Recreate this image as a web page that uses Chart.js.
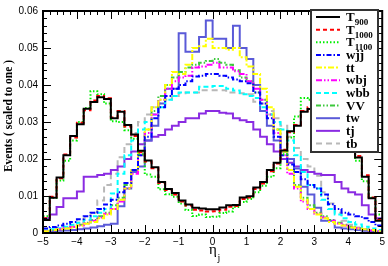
<!DOCTYPE html>
<html>
<head>
<meta charset="utf-8">
<script src="https://cdn.jsdelivr.net/npm/chart.js@4.4.0/dist/chart.umd.min.js"></script>
<style>
  html, body { margin: 0; padding: 0; background: #fff; }
  #wrap { width: 388px; height: 266px; }
</style>
</head>
<body>
<div id="wrap"><canvas id="etaChart" width="388" height="266"></canvas></div>
<script>
// 50 bins of 0.2 in eta_j, from -5 to 5
const etaMin = -5;
const binWidth = 0.2;
const nBins = 50;
const binEdges = [];
for (let i = 0; i <= nBins; i++) binEdges.push(+(etaMin + i * binWidth).toFixed(2));

const xTicks = [-5, -4, -3, -2, -1, 0, 1, 2, 3, 4, 5];
const yTicks = [0, 0.01, 0.02, 0.03, 0.04, 0.05, 0.06];

// signal samples
const t900 = [0.0035, 0.0095, 0.015, 0.021, 0.0262, 0.0294, 0.0336, 0.0354, 0.0367, 0.0362,
  0.031, 0.0328, 0.0292, 0.0266, 0.0222, 0.0196, 0.0178, 0.0138, 0.0119, 0.0108,
  0.0088, 0.0077, 0.0068, 0.0066, 0.0064, 0.0064, 0.0069, 0.0075, 0.0076, 0.0096,
  0.0099, 0.0123, 0.0138, 0.017, 0.019, 0.0223, 0.0275, 0.029, 0.0328, 0.0335,
  0.036, 0.037, 0.0355, 0.033, 0.028, 0.025, 0.0204, 0.0152, 0.0094, 0.0033];
const t1000 = [0.004, 0.0098, 0.0148, 0.0212, 0.0258, 0.0298, 0.0332, 0.0358, 0.037, 0.0364,
  0.0312, 0.033, 0.0288, 0.0262, 0.0218, 0.0193, 0.0175, 0.0135, 0.0116, 0.0104,
  0.0085, 0.0074, 0.0063, 0.0061, 0.0058, 0.0059, 0.0063, 0.0071, 0.0073, 0.0092,
  0.0096, 0.0119, 0.0134, 0.0167, 0.0188, 0.0225, 0.0272, 0.0292, 0.033, 0.034,
  0.0362, 0.0372, 0.0358, 0.0332, 0.0282, 0.0252, 0.0208, 0.0156, 0.0096, 0.0035];
const t1100 = [0.0045, 0.0095, 0.0142, 0.0195, 0.025, 0.03, 0.0338, 0.0383, 0.0375, 0.035,
  0.0302, 0.03, 0.0278, 0.0255, 0.0213, 0.0158, 0.0152, 0.0118, 0.0105, 0.0098,
  0.008, 0.0062, 0.0046, 0.005, 0.0043, 0.0044, 0.0054, 0.0058, 0.007, 0.0084,
  0.0092, 0.011, 0.0128, 0.0152, 0.0175, 0.0213, 0.0258, 0.0315, 0.0365, 0.036,
  0.0385, 0.037, 0.034, 0.03, 0.026, 0.0235, 0.0195, 0.014, 0.0095, 0.005];

// backgrounds
const wjj = [0.0012, 0.0016, 0.002, 0.0025, 0.003, 0.0037, 0.0045, 0.0055, 0.0065, 0.0077,
  0.009, 0.011, 0.0135, 0.017, 0.021, 0.026, 0.031, 0.034, 0.037, 0.039,
  0.04, 0.041, 0.0423, 0.0425, 0.043, 0.043, 0.0425, 0.042, 0.0415, 0.041,
  0.0405, 0.038, 0.035, 0.031, 0.026, 0.021, 0.0185, 0.0165, 0.0145, 0.013,
  0.012, 0.0104, 0.0078, 0.0065, 0.0055, 0.005, 0.0045, 0.004, 0.003, 0.002];
const tt = [0.0005, 0.0008, 0.001, 0.0012, 0.0015, 0.002, 0.0025, 0.003, 0.004, 0.005,
  0.0065, 0.009, 0.012, 0.017, 0.022, 0.028, 0.034, 0.036, 0.04, 0.0435,
  0.043, 0.0455, 0.05, 0.0505, 0.0525, 0.05, 0.05, 0.0495, 0.05, 0.0475,
  0.045, 0.043, 0.039, 0.034, 0.028, 0.022, 0.017, 0.0125, 0.009, 0.0065,
  0.005, 0.004, 0.003, 0.0025, 0.002, 0.0015, 0.0012, 0.001, 0.0008, 0.0005];
const wbj = [0.0005, 0.0007, 0.001, 0.0013, 0.0016, 0.002, 0.0026, 0.0033, 0.0042, 0.0052,
  0.0065, 0.0085, 0.012, 0.016, 0.021, 0.027, 0.032, 0.036, 0.039, 0.041,
  0.042, 0.0425, 0.0447, 0.045, 0.0455, 0.046, 0.0447, 0.0447, 0.0437, 0.043,
  0.041, 0.039, 0.036, 0.032, 0.027, 0.021, 0.016, 0.012, 0.0085, 0.0065,
  0.0052, 0.0042, 0.0033, 0.0026, 0.002, 0.0016, 0.0013, 0.001, 0.0007, 0.0005];
const wbb = [0.0007, 0.001, 0.0013, 0.0017, 0.0022, 0.0028, 0.0035, 0.0045, 0.0055, 0.0065,
  0.0107, 0.016, 0.021, 0.025, 0.028, 0.03, 0.032, 0.034, 0.036, 0.037,
  0.038, 0.038, 0.038, 0.0395, 0.0395, 0.0397, 0.0397, 0.039, 0.0385, 0.0375,
  0.037, 0.0365, 0.034, 0.032, 0.03, 0.028, 0.025, 0.021, 0.0165, 0.013,
  0.012, 0.009, 0.0065, 0.005, 0.004, 0.003, 0.0023, 0.0017, 0.0012, 0.0008];
const vv = [0.0005, 0.0007, 0.001, 0.0013, 0.0017, 0.0022, 0.0028, 0.0035, 0.0045, 0.0055,
  0.0075, 0.0095, 0.013, 0.017, 0.022, 0.028, 0.033, 0.037, 0.04, 0.042,
  0.0435, 0.0447, 0.0455, 0.046, 0.0465, 0.047, 0.046, 0.0455, 0.044, 0.042,
  0.041, 0.038, 0.036, 0.032, 0.028, 0.022, 0.017, 0.013, 0.0095, 0.0075,
  0.0055, 0.0045, 0.0035, 0.0028, 0.0022, 0.0017, 0.0013, 0.001, 0.0007, 0.0005];
const tw = [0.0004, 0.0005, 0.0006, 0.0007, 0.0008, 0.001, 0.0012, 0.0015, 0.0018, 0.0022,
  0.0025, 0.0072, 0.012, 0.0165, 0.018, 0.025, 0.029, 0.035, 0.039, 0.039,
  0.054, 0.049, 0.049, 0.053, 0.0574, 0.0525, 0.0525, 0.05, 0.056, 0.05,
  0.047, 0.04, 0.033, 0.029, 0.025, 0.022, 0.02, 0.0174, 0.0125, 0.0104,
  0.0068, 0.0033, 0.0033, 0.0015, 0.0012, 0.001, 0.0008, 0.0006, 0.0005, 0.0004];
const tj = [0.004, 0.005, 0.007, 0.0094, 0.0094, 0.0112, 0.0152, 0.0152, 0.0157, 0.016,
  0.017, 0.018, 0.02, 0.022, 0.024, 0.025, 0.026, 0.0265, 0.028, 0.029,
  0.03, 0.031, 0.031, 0.0323, 0.033, 0.033, 0.0325, 0.0323, 0.031, 0.0305,
  0.03, 0.028, 0.026, 0.024, 0.022, 0.02, 0.019, 0.018, 0.017, 0.0165,
  0.016, 0.0157, 0.0157, 0.0138, 0.012, 0.011, 0.0104, 0.0075, 0.005, 0.004];
const tb = [0.0004, 0.0006, 0.0008, 0.0012, 0.0018, 0.0028, 0.004, 0.0055, 0.0088, 0.013,
  0.016, 0.0205, 0.024, 0.027, 0.03, 0.032, 0.034, 0.035, 0.036, 0.037,
  0.0378, 0.038, 0.038, 0.0386, 0.0386, 0.0386, 0.0386, 0.038, 0.038, 0.0378,
  0.0375, 0.0355, 0.035, 0.033, 0.031, 0.029, 0.026, 0.023, 0.02, 0.018,
  0.0155, 0.011, 0.008, 0.0055, 0.0033, 0.0022, 0.0015, 0.001, 0.0007, 0.0005];

const legendMain = ['T', 'T', 'T', 'wjj', 'tt', 'wbj', 'wbb', 'VV', 'tw', 'tj', 'tb'];
const legendSub = ['900', '1000', '1100', '', '', '', '', '', '', '', ''];

const series = [t900, t1000, t1100, wjj, tt, wbj, wbb, vv, tw, tj, tb];
const colors = ['#000000', '#ff0000', '#00ee00', '#0000ff', '#ffff00', '#ff00ff',
  '#00ffff', '#3cc83c', '#5a5ad8', '#8a2be2', '#b8b8b8'];
const dashes = [[], [4, 3], [1.5, 2], [5, 2, 1.5, 2], [6, 2, 2, 2], [6, 2, 1.5, 2, 1.5, 2],
  [5, 3], [5, 2, 1.5, 2, 1.5, 2], [], [], [6, 4]];

// step histogram: value at left edge, repeated at the last edge
function histPoints(vals) {
  return binEdges.map((x, i) => ({ x: x, y: vals[Math.min(i, vals.length - 1)] }));
}

const datasets = series.map((vals, i) => ({
  label: legendMain[i] + legendSub[i],
  data: histPoints(vals),
  borderColor: colors[i],
  borderDash: dashes[i],
  borderWidth: 2,
  stepped: true,
  pointRadius: 0,
  fill: false
}));

function line(ctx, x1, y1, x2, y2) {
  ctx.beginPath();
  ctx.moveTo(x1, y1);
  ctx.lineTo(x2, y2);
  ctx.stroke();
}

// frame with inward major/minor ticks on all four sides
const frameTicks = {
  id: 'frameTicks',
  afterDatasetsDraw(chart) {
    const { ctx, chartArea: a, scales: { x, y } } = chart;
    ctx.save();
    ctx.strokeStyle = '#000';
    ctx.lineWidth = 1;
    for (let i = 0; i <= nBins; i++) {
      const px = Math.round(x.getPixelForValue(etaMin + i * binWidth)) + 0.5;
      const len = i % 5 === 0 ? 8 : 4;
      line(ctx, px, a.bottom, px, a.bottom - len);
      line(ctx, px, a.top, px, a.top + len);
    }
    for (let i = 0; i <= 30; i++) {
      const py = Math.round(y.getPixelForValue(i * 0.002)) + 0.5;
      const len = i % 5 === 0 ? 8 : 4;
      line(ctx, a.left, py, a.left + len, py);
      line(ctx, a.right, py, a.right - len, py);
    }
    ctx.lineWidth = 2;
    ctx.strokeRect(a.left, a.top, a.right - a.left, a.bottom - a.top);
    ctx.restore();
  }
};

// legend box, axis titles
const decorations = {
  id: 'decorations',
  afterDraw(chart) {
    const ctx = chart.ctx;
    ctx.save();
    // legend
    ctx.fillStyle = '#fff';
    ctx.fillRect(311, 10, 67, 142);
    ctx.strokeStyle = '#333';
    ctx.lineWidth = 2;
    ctx.strokeRect(311, 10, 67, 142);
    chart.data.datasets.forEach((ds, i) => {
      const ly = 17 + i * 12.65;
      ctx.strokeStyle = ds.borderColor;
      ctx.lineWidth = 2;
      ctx.setLineDash(ds.borderDash);
      line(ctx, 316, ly, 340, ly);
      ctx.setLineDash([]);
      ctx.fillStyle = '#000';
      ctx.textAlign = 'left';
      ctx.textBaseline = 'alphabetic';
      ctx.font = 'bold 13px "Liberation Serif"';
      ctx.fillText(legendMain[i], 346, ly + 4);
      if (legendSub[i]) {
        const w = ctx.measureText(legendMain[i]).width;
        ctx.font = 'bold 9px "Liberation Serif"';
        ctx.fillText(legendSub[i], 346 + w, ly + 8);
      }
    });
    // y title
    ctx.fillStyle = '#000';
    ctx.translate(12, 116);
    ctx.rotate(-Math.PI / 2);
    ctx.textAlign = 'center';
    ctx.font = 'bold 11.5px "Liberation Serif"';
    ctx.fillText('Events ( scaled to one )', 0, 0);
    ctx.restore();
    // x title
    ctx.save();
    ctx.fillStyle = '#000';
    ctx.textAlign = 'left';
    ctx.font = '15px "Liberation Serif"';
    ctx.fillText('η', 209, 254);
    ctx.font = '10px "Liberation Serif"';
    ctx.fillText('j', 217.5, 261);
    ctx.restore();
  }
};

new Chart(document.getElementById('etaChart'), {
  type: 'line',
  data: { datasets: datasets },
  options: {
    responsive: false,
    animation: false,
    devicePixelRatio: 1,
    layout: { padding: { top: 5, right: 4, left: 0, bottom: 0 } },
    plugins: { legend: { display: false }, tooltip: { enabled: false } },
    scales: {
      x: {
        type: 'linear',
        min: -5,
        max: 5,
        afterBuildTicks: (s) => { s.ticks = xTicks.map(v => ({ value: v })); },
        afterFit: (s) => { s.height = 33; },
        grid: { display: false, drawTicks: false },
        border: { display: false },
        ticks: {
          padding: 3,
          maxRotation: 0,
          autoSkip: false,
          color: '#000',
          font: { family: 'Liberation Sans', size: 10 },
          callback: (v) => (v < 0 ? '\u2212' + Math.abs(v) : String(v))
        }
      },
      y: {
        min: 0,
        max: 0.06,
        afterBuildTicks: (s) => { s.ticks = yTicks.map(v => ({ value: v })); },
        afterFit: (s) => { s.width = 43; },
        grid: { display: false, drawTicks: false },
        border: { display: false },
        ticks: {
          padding: 5,
          color: '#000',
          font: { family: 'Liberation Sans', size: 10 },
          callback: (v) => (v === 0 ? '0' : v.toFixed(2))
        }
      }
    }
  },
  plugins: [frameTicks, decorations]
});
</script>
</body>
</html>
